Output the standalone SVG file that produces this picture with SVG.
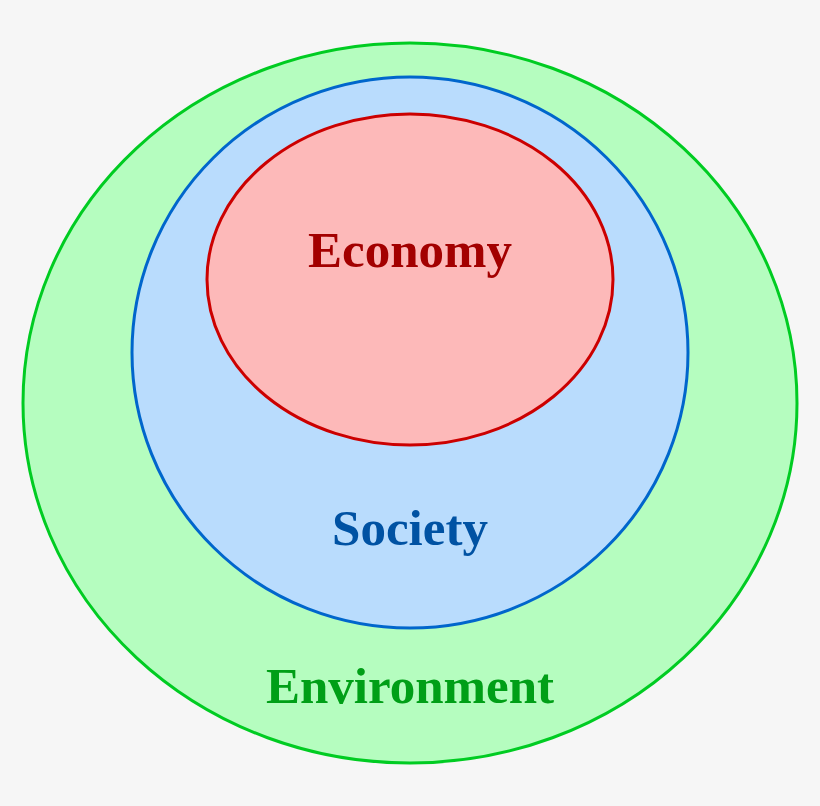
<svg xmlns="http://www.w3.org/2000/svg" width="820" height="806" viewBox="0 0 820 806">
<style>
.lbl{font-family:"Liberation Serif","Times New Roman",serif;font-weight:bold;font-size:51px;text-anchor:middle}
.ring{stroke-width:3}
</style>
<rect width="820" height="806" fill="#f6f6f6"/>
<g id="environment">
<ellipse class="ring" cx="410" cy="403" rx="387" ry="360" fill="#b5fdbf" stroke="#00cc22"/>
<text class="lbl" x="410" y="703" fill="#009f17">Environment</text>
</g>
<g id="society">
<ellipse class="ring" cx="410" cy="352.5" rx="278" ry="275.5" fill="#b9dcfd" stroke="#0066cc"/>
<text class="lbl" x="410" y="545" fill="#0052a3">Society</text>
</g>
<g id="economy">
<ellipse class="ring" cx="410" cy="279.5" rx="203" ry="165.5" fill="#fdb9b9" stroke="#cc0000"/>
<text class="lbl" x="410" y="267" fill="#a30000">Economy</text>
</g>
<g id="connectors"/>
</svg>
